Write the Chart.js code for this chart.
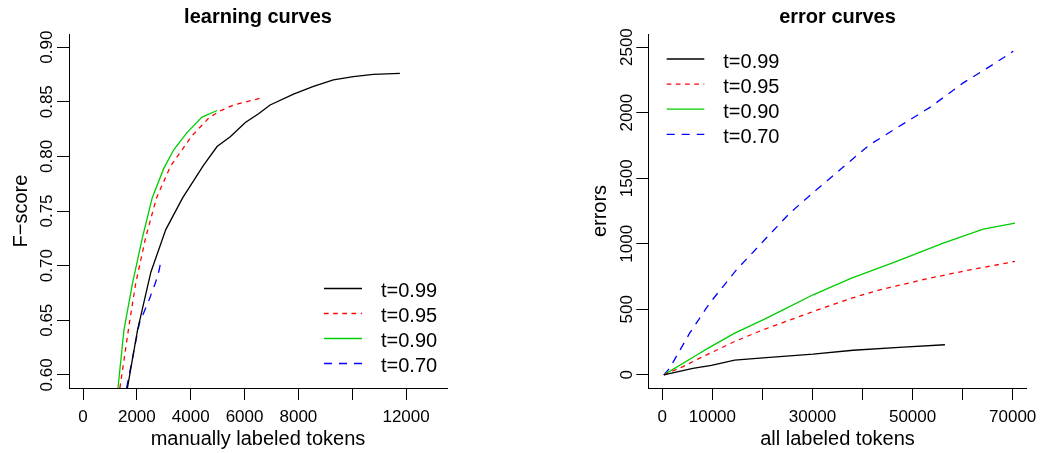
<!DOCTYPE html>
<html>
<head>
<meta charset="utf-8">
<script src="https://cdn.jsdelivr.net/npm/chart.js@4.4.1/dist/chart.umd.min.js"></script>
<style>
  html, body { margin: 0; padding: 0; background: #fff; }
  #wrap { position: relative; width: 1043px; height: 453px; overflow: hidden; background: #fff; }
  #wrap canvas { position: absolute; top: 0; }
</style>
</head>
<body>
<div id="wrap">
  <canvas id="learn" width="521" height="453" style="left:0;width:521px;height:453px"></canvas>
  <canvas id="err" width="522" height="453" style="left:521px;width:522px;height:453px"></canvas>
</div>
<script>
// ---- series labels (confidence thresholds) ----
const seriesLabels = ['t=0.99', 't=0.95', 't=0.90', 't=0.70'];

// ---- learning curves: manually labeled tokens vs F-score ----
const manualTokens99 = [1650, 2025, 2520, 3075, 3700, 4480, 4980, 5470, 6030, 6520, 6950, 7820, 8560, 9300, 10040, 10780, 11770];
const fscore99       = [0.588, 0.641, 0.694, 0.733, 0.762, 0.792, 0.809, 0.818, 0.831, 0.839, 0.847, 0.857, 0.864, 0.870, 0.873, 0.875, 0.876];
const manualTokens95 = [1370, 1720, 1960, 2330, 2730, 3250, 3680, 4050, 4670, 5040, 5590, 6560];
const fscore95       = [0.588, 0.647, 0.684, 0.726, 0.762, 0.791, 0.806, 0.819, 0.835, 0.841, 0.847, 0.853];
const manualTokens90 = [1300, 1520, 1840, 2210, 2570, 3000, 3370, 3870, 4420, 4980];
const fscore90       = [0.588, 0.641, 0.684, 0.726, 0.762, 0.789, 0.806, 0.822, 0.836, 0.842];
const manualTokens70 = [1620, 2090, 2460, 2700, 2830, 2890];
const fscore70       = [0.588, 0.647, 0.669, 0.685, 0.696, 0.704];

// ---- error curves: all labeled tokens vs errors ----
const allTokens99 = [300, 6100, 9800, 14460, 20120, 30120, 38120, 48120, 56460];
const errors99    = [0, 50, 72, 112, 130, 158, 188, 211, 230];
const allTokens95 = [300, 4120, 6800, 14460, 20120, 30120, 37800, 43460, 53460, 61460, 70460];
const errors95    = [0, 63, 115, 255, 344, 483, 585, 649, 738, 801, 865];
const allTokens90 = [300, 6800, 9000, 14460, 20120, 24120, 30120, 37800, 46800, 56120, 64120, 70460];
const errors90    = [0, 150, 200, 318, 420, 496, 611, 738, 865, 1005, 1112, 1158];
const allTokens70 = [300, 1460, 5460, 9460, 14800, 20120, 25460, 30800, 37460, 41460, 46800, 53460, 60120, 65460, 70120];
const errors70    = [0, 51, 318, 547, 801, 1017, 1234, 1412, 1628, 1756, 1883, 2040, 2227, 2353, 2468];

// ---- axis ticks ----
const learnXTicks      = [0, 2000, 4000, 6000, 8000, 10000, 12000];
const learnXTickLabels = ['0', '2000', '4000', '6000', '8000', '', '12000'];
const learnYTicks      = [0.60, 0.65, 0.70, 0.75, 0.80, 0.85, 0.90];
const learnYTickLabels = ['0.60', '0.65', '0.70', '0.75', '0.80', '0.85', '0.90'];
const errXTicks        = [0, 10000, 20000, 30000, 40000, 50000, 60000, 70000];
const errXTickLabels   = ['0', '10000', '', '30000', '', '50000', '', '70000'];
const errYTicks        = [0, 500, 1000, 1500, 2000, 2500];
const errYTickLabels   = ['0', '500', '1000', '1500', '2000', '2500'];

const FONT = '"Liberation Sans", Arial, Helvetica, sans-serif';
const seriesColors = ['#000000', '#FF0000', '#00CD00', '#0000FF'];
const seriesDashes = [[], [4.6, 4.6], [], [8, 7]];

function pairs(xs, ys) { return xs.map((x, i) => ({ x: x, y: ys[i] })); }

function makeDatasets(seriesPairs) {
  return seriesPairs.map((p, i) => ({
    label: seriesLabels[i],
    data: pairs(p[0], p[1]),
    borderColor: seriesColors[i],
    borderWidth: 1.3,
    borderDash: seriesDashes[i],
    pointRadius: 0,
    fill: false,
    tension: 0
  }));
}

// Axis labels, titles and legend drawn in R base-graphics style
function textLayer(cfg) {
  return {
    id: 'textLayer',
    afterDraw(chart) {
      const ctx = chart.ctx, a = chart.chartArea;
      const xs = chart.scales.x, ys = chart.scales.y;
      const cx = (a.left + a.right) / 2, cy = (a.top + a.bottom) / 2;
      ctx.save();
      ctx.fillStyle = '#000';
      ctx.textBaseline = 'alphabetic';
      ctx.textAlign = 'center';

      ctx.font = 'bold 20px ' + FONT;
      ctx.fillText(cfg.title, cx, 23);

      ctx.font = '17px ' + FONT;
      cfg.xTicks.forEach((v, i) => {
        const t = cfg.xTickLabels[i];
        if (t) ctx.fillText(t, xs.getPixelForValue(v), 421.5);
      });
      cfg.yTicks.forEach((v, i) => {
        ctx.save();
        ctx.translate(a.left - 16.7, ys.getPixelForValue(v));
        ctx.rotate(-Math.PI / 2);
        ctx.fillText(cfg.yTickLabels[i], 0, 0);
        ctx.restore();
      });

      ctx.font = '20px ' + FONT;
      ctx.fillText(cfg.xTitle, cx, 445);
      ctx.save();
      ctx.translate(a.left - 42, cy);
      ctx.rotate(-Math.PI / 2);
      ctx.fillText(cfg.yTitle, 0, 0);
      ctx.restore();

      const lg = cfg.legend;
      ctx.textAlign = 'left';
      chart.data.datasets.forEach((ds, i) => {
        const y = lg.y0 + i * lg.step;
        ctx.beginPath();
        ctx.strokeStyle = ds.borderColor;
        ctx.lineWidth = ds.borderWidth;
        ctx.setLineDash(ds.borderDash || []);
        ctx.moveTo(lg.x1, y);
        ctx.lineTo(lg.x2, y);
        ctx.stroke();
        ctx.setLineDash([]);
        ctx.fillText(ds.label, lg.tx, y + 8.5);
      });
      ctx.restore();
    }
  };
}

function axis(min, max, ticks, fitKey, fitSize) {
  return {
    type: 'linear',
    min: min,
    max: max,
    afterBuildTicks: s => { s.ticks = ticks.map(v => ({ value: v })); },
    afterFit: s => { s[fitKey] = fitSize; },
    ticks: { display: false },
    grid: { display: true, drawOnChartArea: false, drawTicks: true, tickLength: 12, tickColor: '#000', tickWidth: 1 },
    border: { display: true, color: '#000', width: 1 }
  };
}

function makeChart(id, datasets, xRange, yRange, padRight, yWidth, xTicks, yTicks, cfg) {
  return new Chart(document.getElementById(id), {
    type: 'line',
    data: { datasets: datasets },
    options: {
      responsive: false,
      animation: false,
      devicePixelRatio: 1,
      layout: { padding: { top: 34, right: padRight, left: 0, bottom: 0 } },
      plugins: { legend: { display: false }, tooltip: { enabled: false }, title: { display: false } },
      scales: {
        x: axis(xRange[0], xRange[1], xTicks, 'height', 65),
        y: axis(yRange[0], yRange[1], yTicks, 'width', yWidth)
      }
    },
    plugins: [textLayer(cfg)]
  });
}

makeChart('learn',
  makeDatasets([[manualTokens99, fscore99], [manualTokens95, fscore95], [manualTokens90, fscore90], [manualTokens70, fscore70]]),
  [-520, 13520], [0.588, 0.912], 74, 69, learnXTicks, learnYTicks,
  {
    title: 'learning curves', xTitle: 'manually labeled tokens', yTitle: 'F\u2212score',
    xTicks: learnXTicks, xTickLabels: learnXTickLabels, yTicks: learnYTicks, yTickLabels: learnYTickLabels,
    legend: { x1: 324, x2: 362, tx: 381, y0: 288.5, step: 25 }
  });

makeChart('err',
  makeDatasets([[allTokens99, errors99], [allTokens95, errors95], [allTokens90, errors90], [allTokens70, errors70]]),
  [-2800, 72800], [-100, 2600], 16.3, 127.3, errXTicks, errYTicks,
  {
    title: 'error curves', xTitle: 'all labeled tokens', yTitle: 'errors',
    xTicks: errXTicks, xTickLabels: errXTickLabels, yTicks: errYTicks, yTickLabels: errYTickLabels,
    legend: { x1: 145.7, x2: 183.3, tx: 202.3, y0: 59, step: 25.1 }
  });
</script>
</body>
</html>
